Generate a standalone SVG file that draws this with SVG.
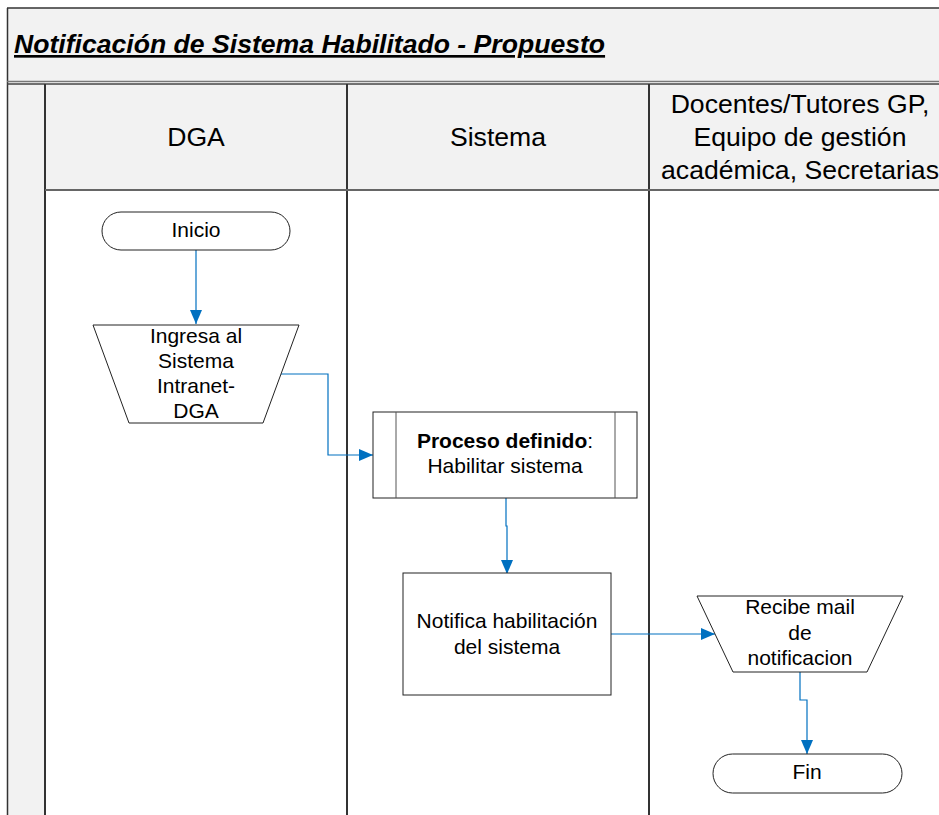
<svg xmlns="http://www.w3.org/2000/svg" width="939" height="815" viewBox="0 0 939 815">
<defs>
<marker id="arr" viewBox="0 0 14 12" refX="14" refY="6" markerWidth="14" markerHeight="12" markerUnits="userSpaceOnUse" orient="auto">
<path d="M0,0 L14,6 L0,12 Z" fill="#0070c0"/>
</marker>
<style>
.t{font-family:"Liberation Sans",Arial,sans-serif;fill:#000;text-anchor:middle}
.n{font-size:21px}
.h{font-size:26.6px}
.shape{fill:#fff;stroke:#222;stroke-width:1}
.lane{stroke:#333;stroke-width:2;fill:none}
.c{fill:none;stroke:#0070c0;stroke-width:1.2}
</style>
</defs>
<rect x="0" y="0" width="939" height="815" fill="#fff"/>
<g id="frame">
<rect x="7" y="8" width="940" height="74" fill="#f2f2f2"/>
<rect x="7" y="82" width="38" height="740" fill="#f2f2f2"/>
<rect x="45" y="84" width="900" height="106" fill="#f2f2f2"/>
<line x1="7" y1="8" x2="939" y2="8" stroke="#333" stroke-width="1.5"/>
<line x1="7.5" y1="8" x2="7.5" y2="815" stroke="#333" stroke-width="1.5"/>
<line x1="7" y1="81.5" x2="939" y2="81.5" stroke="#777" stroke-width="1.5"/>
<line x1="7" y1="84" x2="939" y2="84" stroke="#444" stroke-width="1.5"/>
<line x1="45" y1="84" x2="45" y2="815" class="lane"/>
<line x1="347" y1="84" x2="347" y2="815" class="lane"/>
<line x1="649" y1="84" x2="649" y2="815" class="lane"/>
<line x1="45" y1="190" x2="939" y2="190" stroke="#666" stroke-width="2"/>
<text x="14" y="53" font-family="Liberation Sans,Arial,sans-serif" font-size="26.6" font-weight="bold" font-style="italic" text-decoration="underline">Notificación de Sistema Habilitado - Propuesto</text>
<text class="t h" x="196" y="146">DGA</text>
<text class="t h" x="498" y="146">Sistema</text>
<text class="t h" x="800" y="113">Docentes/Tutores GP,</text>
<text class="t h" x="800" y="146">Equipo de gestión</text>
<text class="t h" x="800" y="179">académica, Secretarias</text>
</g>
<g id="connectors">
<path class="c" d="M196,250 L196,324" marker-end="url(#arr)"/>
<path class="c" d="M281,374 L328,374 L328,455 L373,455" marker-end="url(#arr)"/>
<path class="c" d="M506,498 L506,526 L507,526 L507,574" marker-end="url(#arr)"/>
<path class="c" d="M611,634 L715,634" marker-end="url(#arr)"/>
<path class="c" d="M800,672 L800,700 L807,700 L807,754" marker-end="url(#arr)"/>
</g>
<g id="inicio">
<rect class="shape" x="102" y="212" width="188" height="38" rx="19"/>
<text class="t n" x="196" y="237">Inicio</text>
</g>
<g id="ingresa">
<polygon class="shape" points="93,325 299,325 263,423 129,423"/>
<text class="t n" x="196" y="343">Ingresa al</text>
<text class="t n" x="196" y="368">Sistema</text>
<text class="t n" x="196" y="393">Intranet-</text>
<text class="t n" x="196" y="418">DGA</text>
</g>
<g id="proceso">
<rect class="shape" x="373" y="412" width="264" height="86"/>
<line x1="396" y1="412" x2="396" y2="498" stroke="#555"/>
<line x1="615" y1="412" x2="615" y2="498" stroke="#555"/>
<text class="t n" x="505" y="448"><tspan font-weight="bold">Proceso definido</tspan>:</text>
<text class="t n" x="505" y="473">Habilitar sistema</text>
</g>
<g id="notifica">
<rect class="shape" x="403" y="573" width="208" height="122"/>
<text class="t n" x="507" y="628">Notifica habilitación</text>
<text class="t n" x="507" y="654">del sistema</text>
</g>
<g id="recibe">
<polygon class="shape" points="697,596 903,596 867,672 733,672"/>
<text class="t n" x="800" y="614">Recibe mail</text>
<text class="t n" x="800" y="640">de</text>
<text class="t n" x="800" y="665">notificacion</text>
</g>
<g id="fin">
<rect class="shape" x="713" y="754" width="189" height="39" rx="19.5"/>
<text class="t n" x="807" y="779">Fin</text>
</g>
</svg>
